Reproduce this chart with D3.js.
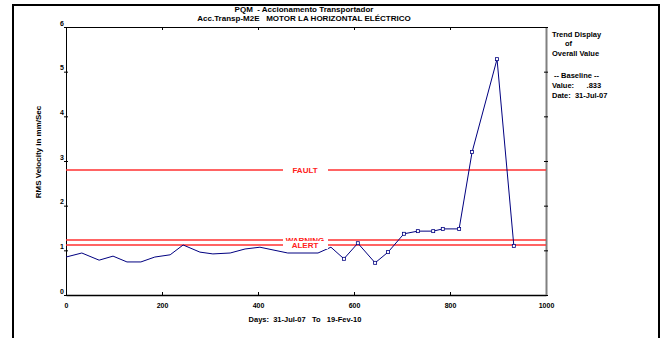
<!DOCTYPE html>
<html>
<head>
<meta charset="utf-8">
<script src="https://cdn.jsdelivr.net/npm/d3@7"></script>
<style>
  body { margin: 0; background: #fff; }
  text { font-family: "Liberation Sans", Arial, sans-serif; font-weight: bold; white-space: pre; }
</style>
</head>
<body>
<div id="chart"></div>
<script>
// Trend data
var days = [0, 33, 69, 98, 127, 156, 185, 217, 244, 279, 306, 342, 373, 404,
            462, 525, 552, 579, 608, 644, 671, 704, 733, 765, 785, 819, 846, 898, 933];
var rms  = [0.85, 0.94, 0.78, 0.87, 0.74, 0.74, 0.85, 0.90, 1.12, 0.96, 0.92, 0.94, 1.03, 1.07,
            0.94, 0.94, 1.07, 0.81, 1.16, 0.72, 0.96, 1.37, 1.43, 1.43, 1.48, 1.48, 3.20, 5.28, 1.10];
var markerFrom = 17; // points with square markers start here

var limitNames  = ["FAULT", "WARNING", "ALERT"];
var limitValues = [2.80, 1.23, 1.12];

var xTicks = [0, 200, 400, 600, 800, 1000];
var yTicks = [0, 1, 2, 3, 4, 5, 6];

var titleLines = ["PQM  - Accionamento Transportador",
                  "Acc.Transp-M2E   MOTOR LA HORIZONTAL ELÉCTRICO"];
var sideLines = [["Trend Display", 552], ["of", 565], ["Overall Value", 552],
                 ["-- Baseline --", 554], ["Value:      .833", 552], ["Date:  31-Jul-07", 552]];
var sideY = [34, 43, 53, 75, 85, 95];

var W = 664, H = 338;
var margin = {top: 27, right: 118, bottom: 43, left: 66},
    width = W - margin.left - margin.right,
    height = H - margin.top - margin.bottom;

var svg = d3.select("#chart").append("svg")
    .attr("width", W)
    .attr("height", H);

// outer frame (left, top, right)
svg.append("path")
    .attr("d", "M13,338V5H659V338")
    .attr("fill", "none")
    .attr("stroke", "#000")
    .attr("stroke-width", 2);

var g = svg.append("g")
    .attr("transform", "translate(" + margin.left + "," + margin.top + ")");

var x = d3.scaleLinear().domain([0, 1000]).range([0, width]);
var y = d3.scaleLinear().domain([0, 6]).range([height, 0]);

// axes
var bottom = g.append("g")
    .attr("transform", "translate(0," + height + ")")
    .call(d3.axisBottom(x).tickValues(xTicks).tickSize(-3).tickSizeOuter(0)
        .tickPadding(8).tickFormat(d3.format("d")));
bottom.select(".domain").attr("stroke-width", 1.5);

g.append("g")
    .call(d3.axisTop(x).tickValues(xTicks).tickSize(-3).tickSizeOuter(0).tickFormat(""));

var left = g.append("g")
    .call(d3.axisLeft(y).tickValues(yTicks).tickSize(2).tickPadding(0)
        .tickSizeOuter(0).tickFormat(d3.format("d")));
left.selectAll(".tick line").attr("x1", 2);
left.selectAll(".tick text").attr("dy", "-0.25em");

var right = g.append("g")
    .attr("transform", "translate(" + width + ",0)")
    .call(d3.axisRight(y).tickValues(yTicks).tickSize(2).tickSizeOuter(0).tickFormat(""));
right.select(".domain").attr("stroke", "#808080").attr("stroke-width", 2);
right.selectAll(".tick line").attr("x1", -2);

g.selectAll(".tick text")
    .style("font-size", "7px")
    .style("font-family", "'Liberation Sans', Arial, sans-serif")
    .style("font-weight", "bold");

// alarm limit lines
g.selectAll(".limit")
    .data(limitValues)
    .enter()
    .append("line")
    .attr("class", "limit")
    .attr("x1", 0)
    .attr("x2", width)
    .attr("y1", function(d) { return y(d); })
    .attr("y2", function(d) { return y(d); })
    .attr("stroke", "#ff3030")
    .attr("stroke-width", 1.6);

// trend line
g.append("path")
    .datum(days.map(function(d, i) { return [d, rms[i]]; }))
    .attr("fill", "none")
    .attr("stroke", "#000080")
    .attr("stroke-width", 1)
    .attr("d", d3.line()
        .x(function(d) { return x(d[0]); })
        .y(function(d) { return y(d[1]); }));

g.selectAll(".mark")
    .data(days.slice(markerFrom))
    .enter()
    .append("rect")
    .attr("class", "mark")
    .attr("x", function(d) { return x(d) - 1.5; })
    .attr("y", function(d, i) { return y(rms[i + markerFrom]) - 1.5; })
    .attr("width", 3)
    .attr("height", 3)
    .attr("fill", "#fff")
    .attr("stroke", "#000080")
    .attr("stroke-width", 0.8);

// limit labels with white boxes (ALERT box drawn last, on top of WARNING)
limitNames.forEach(function(name, i) {
    var cy = y(limitValues[i]);
    g.append("rect")
        .attr("x", width / 2 - 23)
        .attr("y", cy - 4)
        .attr("width", 45)
        .attr("height", 8)
        .attr("fill", "#fff");
    g.append("text")
        .attr("x", width / 2 - 1)
        .attr("y", cy + 2.8)
        .attr("text-anchor", "middle")
        .attr("fill", "#ff2020")
        .style("font-size", "8px")
        .text(name);
});

// titles
svg.selectAll(".title")
    .data(titleLines)
    .enter()
    .append("text")
    .attr("class", "title")
    .attr("x", 304)
    .attr("y", function(d, i) { return 12 + i * 9; })
    .attr("text-anchor", "middle")
    .style("font-size", "8px")
    .text(function(d) { return d; });

// axis titles
svg.append("text")
    .attr("transform", "translate(41,152) rotate(-90)")
    .attr("text-anchor", "middle")
    .style("font-size", "8px")
    .text("RMS Velocity in mm/Sec");

svg.append("text")
    .attr("x", 305)
    .attr("y", 322)
    .attr("text-anchor", "middle")
    .style("font-size", "7.5px")
    .text("Days:  31-Jul-07   To   19-Fev-10");

// side legend text
svg.selectAll(".side")
    .data(sideLines)
    .enter()
    .append("text")
    .attr("class", "side")
    .attr("x", function(d) { return d[1]; })
    .attr("y", function(d, i) { return sideY[i] + 2.5; })
    .style("font-size", "7.5px")
    .text(function(d) { return d[0]; });
</script>
</body>
</html>
